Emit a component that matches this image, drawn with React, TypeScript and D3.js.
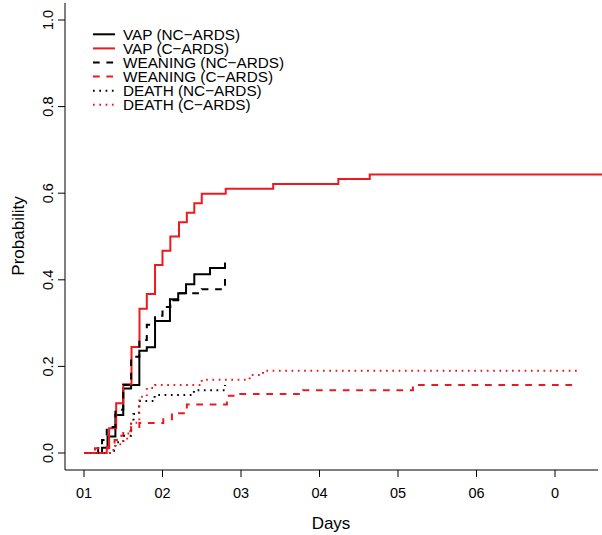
import React from "react";
import * as d3 from "d3";

const W = 602;
const H = 535;

const xTickValues = [0, 10, 20, 30, 40, 50, 60];
const xTickLabels = ["01", "02", "03", "04", "05", "06", "0"];
const yTickValues = [0, 0.2, 0.4, 0.6, 0.8, 1.0];
const yTickLabels = ["0.0", "0.2", "0.4", "0.6", "0.8", "1.0"];

// [day, probability] step points
const vapNC: [number, number][] = [
  [0, 0], [2.3, 0.012], [3.0, 0.038], [4.0, 0.088], [5.0, 0.149], [6.0, 0.157],
  [7.05, 0.236], [8.0, 0.244], [9.05, 0.305], [10.95, 0.355], [12.0, 0.369],
  [13.0, 0.39], [14.05, 0.413], [16.05, 0.427], [17.96, 0.44],
];
const vapC: [number, number][] = [
  [0, 0], [2.9, 0.014], [3.2, 0.057], [4.1, 0.115], [5.0, 0.159], [6.05, 0.245],
  [7.07, 0.333], [8.0, 0.367], [9.05, 0.434], [10.0, 0.467], [11.0, 0.5],
  [12.1, 0.533], [13.1, 0.555], [14.05, 0.577], [15.0, 0.599], [18.05, 0.61],
  [24.1, 0.621], [32.4, 0.633], [36.4, 0.643], [66.5, 0.643],
];
const weanNC: [number, number][] = [
  [0, 0], [1.8, 0.015], [2.3, 0.03], [2.9, 0.06], [4.0, 0.1], [5.0, 0.157],
  [6.0, 0.222], [7.05, 0.261], [8.0, 0.296], [9.05, 0.317], [10.0, 0.337],
  [11.0, 0.353], [12.0, 0.369], [15.0, 0.378], [17.96, 0.403],
];
const weanC: [number, number][] = [
  [0, 0], [1.4, 0.011], [3.2, 0.022], [3.9, 0.03], [4.5, 0.04], [5.0, 0.05],
  [6.0, 0.06], [7.05, 0.069], [10.1, 0.078], [11.2, 0.092], [13.1, 0.112],
  [18.2, 0.132], [19.9, 0.136], [27.9, 0.145], [41.9, 0.157], [62.95, 0.157],
];
const deathNC: [number, number][] = [
  [0, 0], [3.3, 0.005], [4.0, 0.025], [5.0, 0.04], [6.0, 0.07], [6.3, 0.09],
  [7.0, 0.12], [9.0, 0.134], [14.0, 0.145], [17.96, 0.157],
];
const deathC: [number, number][] = [
  [0, 0], [3.3, 0.007], [4.0, 0.02], [5.0, 0.03], [5.5, 0.045], [6.0, 0.07],
  [7.05, 0.13], [8.0, 0.15], [9.05, 0.157], [15.0, 0.169], [21.1, 0.18],
  [22.8, 0.19], [62.8, 0.19],
];

const legendLabels = [
  "VAP (NC\u2212ARDS)",
  "VAP (C\u2212ARDS)",
  "WEANING (NC\u2212ARDS)",
  "WEANING (C\u2212ARDS)",
  "DEATH (NC\u2212ARDS)",
  "DEATH (C\u2212ARDS)",
];

const RED = "#ec1a1e";
const BLACK = "#000000";
const DASH = "6.7 6.7";
const DOT = "1.7 4.6";

const series = [
  { data: vapNC, color: BLACK, dash: null as string | null },
  { data: vapC, color: RED, dash: null as string | null },
  { data: weanNC, color: BLACK, dash: DASH },
  { data: weanC, color: RED, dash: DASH },
  { data: deathNC, color: BLACK, dash: DOT },
  { data: deathC, color: RED, dash: DOT },
];

export default function App() {
  const plotLeft = 65;
  const plotRight = 598;
  const plotTop = 3;
  const plotBottom = 470;

  const x = d3.scaleLinear().domain([0, 60]).range([84, 555]);
  const y = d3.scaleLinear().domain([0, 1]).range([453, 20]);

  const line = d3
    .line<[number, number]>()
    .x((d) => x(d[0]))
    .y((d) => y(d[1]))
    .curve(d3.curveStepAfter);

  const font = "'Liberation Sans', Arial, Helvetica, sans-serif";

  return (
    <svg
      width={W}
      height={H}
      style={{ position: "absolute", left: 0, top: 0, background: "#fff" }}
      fontFamily={font}
    >
      <defs>
        <clipPath id="plotclip">
          <rect x={plotLeft} y={plotTop} width={W - plotLeft} height={plotBottom - plotTop} />
        </clipPath>
      </defs>
      <rect x={0} y={0} width={W} height={H} fill="#fff" />

      {/* curves */}
      <g clipPath="url(#plotclip)" fill="none">
        {series.map((s, i) => (
          <path
            key={i}
            d={line(s.data) || ""}
            stroke={s.color}
            strokeWidth={2}
            strokeDasharray={s.dash || undefined}
            strokeLinecap="butt"
          />
        ))}
      </g>

      {/* box L */}
      <path
        d={`M${plotLeft},${plotTop}V${plotBottom}H${plotRight}`}
        fill="none"
        stroke="#000"
        strokeWidth={1}
      />

      {/* y axis */}
      <g>
        {yTickValues.map((v, i) => (
          <g key={i}>
            <line x1={plotLeft} x2={plotLeft - 7} y1={y(v)} y2={y(v)} stroke="#000" />
            <text
              transform={`translate(${48},${y(v)}) rotate(-90)`}
              textAnchor="middle"
              dominantBaseline="central"
              fontSize={14.5}
              fill="#000"
            >
              {yTickLabels[i]}
            </text>
          </g>
        ))}
      </g>

      {/* x axis */}
      <g>
        {xTickValues.map((v, i) => (
          <g key={i}>
            <line x1={x(v)} x2={x(v)} y1={plotBottom} y2={plotBottom + 7} stroke="#000" />
            <text x={x(v)} y={498} textAnchor="middle" fontSize={14.5} fill="#000">
              {xTickLabels[i]}
            </text>
          </g>
        ))}
      </g>

      <text x={331} y={529} textAnchor="middle" fontSize={17} fill="#000">
        Days
      </text>
      <text
        transform={`translate(${18},${236}) rotate(-90)`}
        textAnchor="middle"
        dominantBaseline="central"
        fontSize={17}
        fill="#000"
      >
        Probability
      </text>

      {/* legend */}
      <g>
        {series.map((s, i) => {
          const ly = 34.3 + i * 14.1;
          return (
            <g key={i}>
              <line
                x1={93}
                x2={115}
                y1={ly}
                y2={ly}
                stroke={s.color}
                strokeWidth={2}
                strokeDasharray={s.dash || undefined}
              />
              <text x={123} y={ly} dominantBaseline="central" fontSize={15.3} fill="#000">
                {legendLabels[i]}
              </text>
            </g>
          );
        })}
      </g>
    </svg>
  );
}
